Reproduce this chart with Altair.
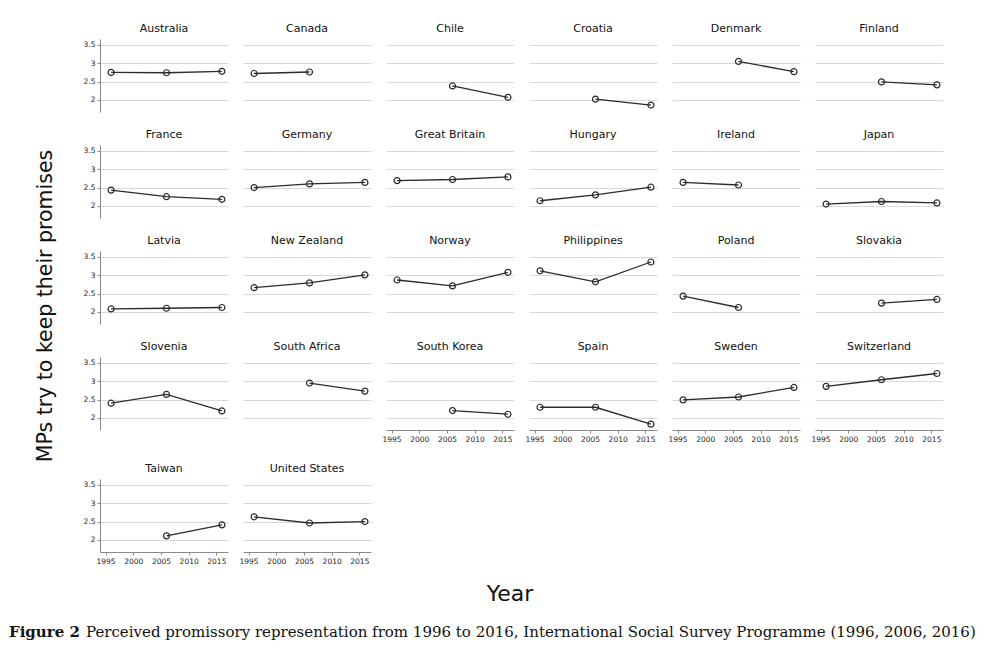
import altair as alt
import pandas as pd

countries = ["Australia", "Canada", "Chile", "Croatia", "Denmark", "Finland",
             "France", "Germany", "Great Britain", "Hungary", "Ireland", "Japan",
             "Latvia", "New Zealand", "Norway", "Philippines", "Poland", "Slovakia",
             "Slovenia", "South Africa", "South Korea", "Spain", "Sweden", "Switzerland",
             "Taiwan", "United States"]
years = [1996, 2006, 2016]
v1996 = [2.75, 2.72, None, None, None, None,
         2.43, 2.50, 2.69, 2.14, 2.64, 2.05,
         2.08, 2.66, 2.87, 3.12, 2.43, None,
         2.40, None, None, 2.29, 2.49, 2.86,
         None, 2.63]
v2006 = [2.74, 2.76, 2.38, 2.02, 3.05, 2.49,
         2.25, 2.60, 2.72, 2.30, 2.57, 2.12,
         2.10, 2.79, 2.71, 2.82, 2.12, 2.24,
         2.64, 2.95, 2.20, 2.29, 2.57, 3.04,
         2.11, 2.46]
v2016 = [2.78, None, 2.07, 1.86, 2.77, 2.41,
         2.18, 2.64, 2.79, 2.51, None, 2.08,
         2.12, 3.01, 3.08, 3.36, None, 2.34,
         2.19, 2.73, 2.10, 1.83, 2.83, 3.21,
         2.41, 2.50]
y_ticks = [2, 2.5, 3, 3.5]
x_ticks = [1995, 2000, 2005, 2010, 2015]
y_title = "MPs try to keep their promises"
x_title = "Year"
caption_bold = "Figure 2"
caption_text = ("Perceived promissory representation from 1996 to 2016, "
                "International Social Survey Programme (1996, 2006, 2016)")

rows = []
for i, c in enumerate(countries):
    for yr, vals in zip(years, [v1996, v2006, v2016]):
        if vals[i] is not None:
            rows.append({"country": c, "year": yr, "value": vals[i]})
df = pd.DataFrame(rows)

SANS = "DejaVu Sans"
PW, PH = 128, 73
INK = "#2b2b2b"


def panel(idx, country):
    col = idx % 6
    show_y = col == 0
    show_x = idx >= 20
    d = df[df["country"] == country]
    if show_y:
        yaxis = alt.Axis(values=y_ticks, format="~g", title=None, grid=True,
                         domain=True, ticks=True, labels=True)
    else:
        yaxis = alt.Axis(values=y_ticks, title=None, grid=True, domain=False,
                         ticks=False, labels=False)
    yenc = alt.Y("value:Q", scale=alt.Scale(domain=[1.67, 3.66], nice=False, zero=False),
                 axis=yaxis)
    if show_x:
        xenc = alt.X("year:Q", scale=alt.Scale(domain=[1994, 2017.1], nice=False, zero=False),
                     axis=alt.Axis(values=x_ticks, format="d", title=None, grid=False))
    else:
        xenc = alt.X("year:Q", scale=alt.Scale(domain=[1994, 2017.1], nice=False, zero=False),
                     axis=None)
    base = alt.Chart(d).encode(x=xenc, y=yenc)
    line = base.mark_line(color=INK, strokeWidth=1.3)
    pts = base.mark_point(shape="circle", size=36, filled=False, color=INK,
                          strokeWidth=1.2, opacity=1)
    return alt.layer(line, pts).properties(
        width=PW, height=PH,
        title=alt.TitleParams(country, font=SANS, fontSize=11, fontWeight="normal",
                              color="#111111", anchor="middle", offset=5))


panels = [panel(i, c) for i, c in enumerate(countries)]
grid4 = alt.concat(*panels[:24], columns=6, spacing={"row": 33, "column": 15},
                   bounds="flush")
row5 = alt.hconcat(*panels[24:], spacing=15, bounds="flush")
grid = alt.vconcat(grid4, row5, spacing=19)

ytitle_chart = alt.Chart(pd.DataFrame({"t": [y_title]})).mark_text(
    angle=270, font=SANS, fontSize=20.5, color="#111111", align="center",
    baseline="middle"
).encode(text="t:N", x=alt.value(37), y=alt.value(267)).properties(
    width=60, height=520)

upper = alt.hconcat(ytitle_chart, grid, spacing=12)

cap_df = pd.DataFrame({"t": [x_title], "b": [caption_bold], "c": [caption_text]})
year_txt = alt.Chart(cap_df).mark_text(
    font=SANS, fontSize=22, color="#111111", align="center", baseline="alphabetic"
).encode(text="t:N", x=alt.value(501), y=alt.value(35))
bold_txt = alt.Chart(cap_df).mark_text(
    font="DejaVu Serif", fontSize=15, fontWeight="bold", color="#111111",
    align="left", baseline="alphabetic"
).encode(text="b:N", x=alt.value(0), y=alt.value(71))
reg_txt = alt.Chart(cap_df).mark_text(
    font="DejaVu Serif", fontSize=15, color="#111111",
    align="left", baseline="alphabetic"
).encode(text="c:N", x=alt.value(77), y=alt.value(71))
caption_chart = alt.layer(year_txt, bold_txt, reg_txt).properties(width=975, height=80)

chart = alt.vconcat(upper, caption_chart, spacing=0).properties(
    padding={"left": 0, "top": 14, "right": 5, "bottom": 5}
).configure_view(stroke="transparent").configure_axis(
    gridColor="#d9d9d9", gridWidth=1, domainColor="#8a8a8a", tickColor="#8a8a8a",
    tickSize=3, labelFont=SANS, labelFontSize=7.5, labelColor="#222222", labelPadding=2,
    domainWidth=1
)

chart.save("out.html", embed_options={"renderer": "svg", "actions": False})
